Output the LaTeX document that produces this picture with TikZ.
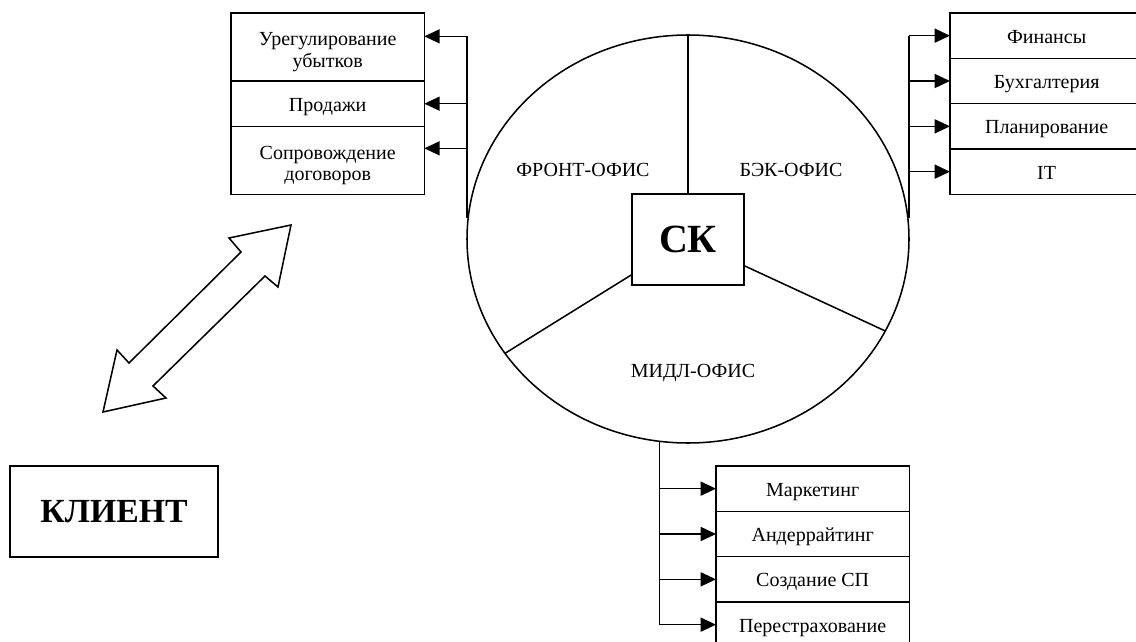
\documentclass[tikz,border=0pt]{standalone}
\usepackage{fontspec}
\setmainfont{Liberation Serif}
\newcommand*{\deptfont}{\fontsize{15}{16.3}\selectfont}
\newcommand*{\hubfont}{\fontsize{30}{34}\selectfont\bfseries}
\newcommand*{\clientfont}{\fontsize{25.3}{30}\selectfont\bfseries}
\usetikzlibrary{arrows.meta}
\usetikzlibrary{positioning}
\usetikzlibrary{shapes.geometric}
\tikzstyle{base}=[x=0.75pt, y=-0.75pt, line width=1.15pt]
\tikzstyle{dept}=[draw, inner sep=0pt, outer sep=0pt, align=center, minimum width=145pt, minimum height=34pt, text height=11.6pt, text depth=0.2pt, font=\deptfont]
\tikzstyle{tall}=[minimum height=51pt, text height=30.9pt, text depth=0pt]
\tikzstyle{feed}=[-{Triangle[length=11.5pt, width=10.5pt]}]

\begin{document}
\begin{tikzpicture}[base]
    \useasboundingbox (0,0) rectangle (1136,642);
        \node [draw, ellipse, inner sep=0pt, outer sep=0pt, minimum width=331.5pt, minimum height=306pt] (office) at (688,239) {};
        \node [draw, inner sep=0pt, outer sep=0pt, minimum width=84pt, minimum height=68pt, font=\hubfont] (sk) at (688,239.5) {СК};
        \draw (sk.north) -- (office.north);
        \draw (sk.212) -- (office.212);
        \draw (sk.335) -- (office.335);
        \node [font=\deptfont] (front) at (583,170) {ФРОНТ-ОФИС};
        \node [font=\deptfont] (back) at (791,170) {БЭК-ОФИС};
        \node [font=\deptfont] (middle) at (693,373) {МИДЛ-ОФИС};

        \node [dept, tall, anchor=north west] (claims) at (231,13) {Урегулирование\\убытков};
        \node [dept, below=0pt of claims] (sales) {Продажи};
        \node [dept, tall, below=0pt of sales] (support) {Сопровождение\\договоров};
        \coordinate (ft) at ([yshift=8pt]claims.east -| office.west);
        \coordinate (fb) at ([yshift=16pt]office.west);
        \draw (ft) -- (fb);
        \draw [feed] (ft) -- ([yshift=8pt]claims.east);
        \draw [feed] (sales.east -| ft) -- (sales.east);
        \draw [feed] ([yshift=9pt]support.east -| ft) -- ([yshift=9pt]support.east);

        \node [dept, anchor=north west] (fin) at (950,13) {Финансы};
        \node [dept, below=0pt of fin] (acc) {Бухгалтерия};
        \node [dept, below=0pt of acc] (plan) {Планирование};
        \node [dept, below=0pt of plan] (it) {IT};
        \coordinate (bb) at ([yshift=16pt]office.east);
        \draw (fin.west -| bb) -- (bb);
        \foreach \n in {fin,acc,plan,it}
            \draw [feed] (\n.west -| bb) -- (\n.west);

        \node [dept, anchor=north west] (mkt) at (716,466) {Маркетинг};
        \node [dept, below=0pt of mkt] (uw) {Андеррайтинг};
        \node [dept, below=0pt of uw] (sp) {Создание СП};
        \node [dept, below=0pt of sp] (re) {Перестрахование};
        \draw (office.262) -- (office.262 |- re.west);
        \foreach \n in {mkt,uw,sp,re}
            \draw [feed] (\n.west -| office.262) -- (\n.west);

        \node [draw, inner sep=0pt, outer sep=0pt, minimum width=156pt, minimum height=68.25pt, font=\clientfont] (client) at (114,511.5) {КЛИЕНТ};
        \draw [line join=miter] (291,225) -- (229,238) -- (241,252) -- (129,363) -- (117,350) -- (103,412) -- (166,398) -- (153,386) -- (265,276) -- (278,287) -- cycle;
    \end{tikzpicture}
\end{document}
